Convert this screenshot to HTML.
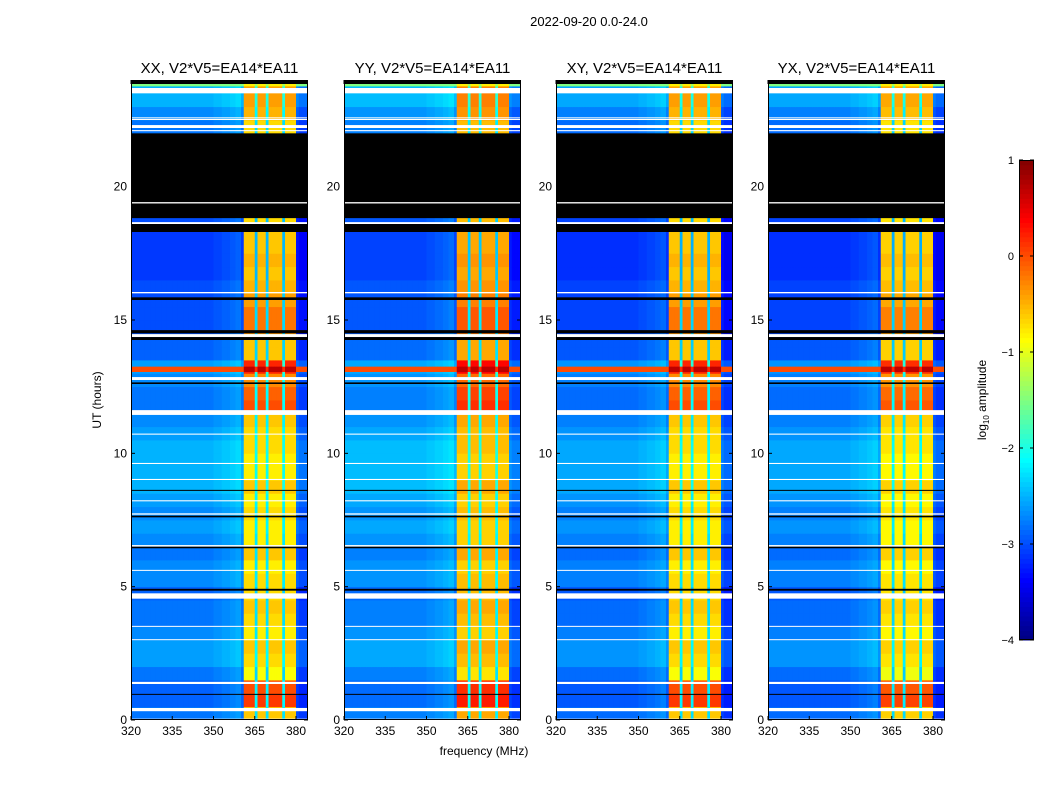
<!DOCTYPE html>
<html><head><meta charset="utf-8"><style>
body{margin:0;background:#fff;}
svg{display:block;font-family:"Liberation Sans",sans-serif;}
</style></head><body>
<svg id="fig" width="1050" height="800" viewBox="0 0 1050 800">
<text x="589" y="26" font-size="13" text-anchor="middle">2022-09-20 0.0-24.0</text>
<text x="484" y="755" font-size="12" text-anchor="middle">frequency (MHz)</text>
<text transform="translate(101,400) rotate(-90)" font-size="12" text-anchor="middle">UT (hours)</text>
<text transform="translate(986,400) rotate(-90)" font-size="12" text-anchor="middle">log<tspan font-size="8" dy="3">10</tspan><tspan dy="-3"> amplitude</tspan></text>
<g id="panels"></g>
<g id="cbar"></g>
</svg>
<script>
// ---- data ----
const panelTitles = ["XX, V2*V5=EA14*EA11","YY, V2*V5=EA14*EA11","XY, V2*V5=EA14*EA11","YX, V2*V5=EA14*EA11"];
const panelBandShift = [0, 0.15, 0, -0.05];
const panelOffShift = [0, 0.05, -0.05, -0.05];
const xTicks = [320,335,350,365,380];
const yTicks = [0,5,10,15,20];
const cbTicks = [1,0,-1,-2,-3,-4];
const cbTickLabels = ["1","0","\u22121","\u22122","\u22123","\u22124"];
// off-band log amplitude per 0.5 h bin (0..24 h)
const offLevel = [-2.8,-2.9,-2.9,-2.8,-2.6,-2.6,-2.7,-2.8,-2.8,-2.9,-2.7,-2.7,-2.8,-2.7,-2.6,-2.7,
 -2.6,-2.5,-2.5,-2.5,-2.5,-2.6,-2.7,-2.8,-2.8,-2.7,-2.6,-2.9,-2.9,-3.0,-3.0,-3.0,
 -3.0,-3.1,-3.1,-3.1,-3.1,-3.0,-3.0,-3.0,-3.0,-3.0,-3.0,-3.0,-2.8,-2.7,-2.5,-2.5];
// RFI band log amplitude per 0.5 h bin
const bandLevel = [-0.6,0.1,0.0,-0.9,-0.7,-0.6,-0.8,-0.7,-0.6,-0.7,-0.7,-0.8,-0.6,-0.8,-0.8,-0.7,
 -0.8,-0.6,-0.8,-0.8,-0.7,-0.7,-0.6,0.0,-0.1,-0.3,0.2,-0.6,-0.6,-0.2,-0.2,-0.4,
 -0.5,-0.6,-0.5,-0.6,-0.6,-0.7,-0.7,-0.7,-0.7,-0.7,-0.7,-0.7,-0.7,-0.5,-0.4,-0.4];
// per 1 MHz channel from 320: fraction of band signal
const colWeight = [0,0,0,0,0,0,0,0,0,0, 0,0,0,0,0,0,0,0,0,0, 0,0,0,0,0,0,0,0,0,0,
 0,0,0,0,0,0,0,0,0,0, 0,1,1,1,1,0.25,1,1,1,0.25, 1,1,1,1,1,0.25,1,1,1,1, 0,0,0,0,0];
const colOffset = [0,0,0,0,0,0,0,0,0,0, 0,0,0,0,0,0,0,0,0,0, 0,0,0,0,0,0,0,0,0,0,
 0.05,0.05,0.05,0.1,0.1,0.1,0.15,0.15,0.2,0.2, 0,0,0,0,0,0,0,0,0,0, 0,0,0,0,0,0,0,0,0,0, -0.2,-0.3,-0.3,-0.3,-0.3];
// flagged / special time segments [start h, end h, kind]  kind: 'k' black, 'w' white, number = amplitude
const flagStart = [23.85,23.76,23.5,22.57,22.5,22.2,22.08,18.82,19.37,18.6,18.3,16.0,15.75,14.5,14.36,14.25,13.05,12.75,12.6,11.44,10.7,9.6,9.0,8.6,8.2,7.7,7.6,6.5,6.44,5.6,4.85,4.55,3.5,3.0,1.35,0.95,0.33,0.0];
const flagEnd   = [24.0,23.85,23.7,22.6,22.54,22.31,22.12,22.0,19.42,18.67,18.6,16.05,15.85,14.62,14.47,14.36,13.25,12.86,12.66,11.62,10.74,9.64,9.04,8.63,8.24,7.75,7.66,6.56,6.5,5.63,4.92,4.75,3.53,3.03,1.43,0.98,0.45,0.05];
const flagKind  = ['k',-1.5,'w','w','w','w','w','k','w','w','k','w','k','k','w','k',0.0,'w','k','w','w','w','w','k','w','w','k','w','k','w','k','w','w','w','w','k','w','w'];

// ---- helpers ----
const NS="http://www.w3.org/2000/svg";
function el(tag, attrs, parent){const e=document.createElementNS(NS,tag);for(const k in attrs)e.setAttribute(k,attrs[k]);parent.appendChild(e);return e;}
function jet(v){ // v in [-4,1]
  let t=(v+4)/5; t=Math.max(0,Math.min(1,t));
  const f=x=>Math.max(0,Math.min(1,x));
  const r=f(1.5-Math.abs(4*t-3)), g=f(1.5-Math.abs(4*t-2)), b=f(1.5-Math.abs(4*t-1));
  return `rgb(${Math.round(r*255)},${Math.round(g*255)},${Math.round(b*255)})`;
}
const panelX=[131,344,556,768], PW=177, PT=80, PB=720;
const FMIN=320, FMAX=384.36;
function xs(p,f){return panelX[p]+(f-FMIN)/(FMAX-FMIN)*PW;}
function ys(h){return PB-(h/24)*(PB-PT);}

const root=document.getElementById('panels');
for(let p=0;p<4;p++){
  const g=el('g',{},root);
  
  
  const clipId='clip'+p;
  const cp=el('clipPath',{id:clipId},g); el('rect',{x:panelX[p],y:PT,width:PW,height:PB-PT},cp);
  const hm=el('g',{'clip-path':`url(#${clipId})`},g);
  
  
  const dt=24/offLevel.length;
  for(let r=0;r<offLevel.length;r++){
    const y0=ys((r+1)*dt), y1=ys(r*dt);
    for(let c=0;c<colWeight.length;c++){
      const off=offLevel[r]+panelOffShift[p]+colOffset[c];
      const band=bandLevel[r]+panelBandShift[p];
      const v=off+colWeight[c]*(band-off);
      const x0=xs(p,FMIN+c), x1=xs(p,FMIN+c+1);
      const rc=el('rect',{x:x0.toFixed(2),y:y0.toFixed(2),width:(x1-x0+0.4).toFixed(2),height:(y1-y0+0.4).toFixed(2),fill:jet(v)},hm);
      
      
    }
  }
  for(let i=0;i<flagStart.length;i++){
    const k=flagKind[i];
    const y0=ys(flagEnd[i]), y1=ys(flagStart[i]);
    if(typeof k==='number'){
      for(let c=0;c<colWeight.length;c++){
        const v=k+colWeight[c]*0.7;
        const x0=xs(p,FMIN+c), x1=xs(p,FMIN+c+1);
        const rc=el('rect',{x:x0,y:y0,width:x1-x0+0.4,height:y1-y0,fill:jet(v)},hm);
        
        
      }
    } else {
      const rc=el('rect',{x:panelX[p],y:y0,width:PW,height:Math.max(1,y1-y0),fill:k==='k'?'#000':'#fff'},hm);
      
      
    }
  }
  const fr=el('rect',{x:panelX[p]+0.5,y:PT+0.5,width:PW-1,height:PB-PT-1,fill:'none',stroke:'#000','stroke-width':1},g);
  
  
  const t=el('text',{x:panelX[p]+PW/2,y:73,'font-size':15,'text-anchor':'middle'},g); t.textContent=panelTitles[p];
  
  
  xTicks.forEach(f=>{
    const x=xs(p,f);
    el('line',{x1:x,x2:x,y1:PB,y2:PB-4,stroke:'#000'},g);
    el('line',{x1:x,x2:x,y1:PT,y2:PT+4,stroke:'#000'},g);
    const tl=el('text',{x:x,y:PB+15,'font-size':12,'text-anchor':'middle'},g); tl.textContent=f;
    
    
  });
  yTicks.forEach(h=>{
    const y=ys(h);
    el('line',{x1:panelX[p],x2:panelX[p]+4,y1:y,y2:y,stroke:'#000'},g);
    el('line',{x1:panelX[p]+PW,x2:panelX[p]+PW-4,y1:y,y2:y,stroke:'#000'},g);
    const tl=el('text',{x:panelX[p]-4,y:y+4,'font-size':12,'text-anchor':'end'},g); tl.textContent=h;
    
    
  });
}
// colorbar
const cb=document.getElementById('cbar');


const CX=1019, CW=15, CT=160, CB=640;
const nSteps=100;
for(let i=0;i<nSteps;i++){
  const v=-4+5*(i+0.5)/nSteps;
  const y=CB-(i+1)*(CB-CT)/nSteps;
  el('rect',{x:CX,y:y,width:CW,height:(CB-CT)/nSteps+0.5,fill:jet(v)},cb);
}
el('rect',{x:CX+0.5,y:CT+0.5,width:CW-1,height:CB-CT-1,fill:'none',stroke:'#000'},cb);
cbTicks.forEach((v,i)=>{
  const y=CB-(v+4)/5*(CB-CT);
  el('line',{x1:CX,x2:CX+4,y1:y,y2:y,stroke:'#000'},cb);
  el('line',{x1:CX+CW,x2:CX+CW-4,y1:y,y2:y,stroke:'#000'},cb);
  const tl=el('text',{x:CX-5,y:y+4,'font-size':11,'text-anchor':'end'},cb); tl.textContent=cbTickLabels[i];
  
  
});
</script>
</body></html>
